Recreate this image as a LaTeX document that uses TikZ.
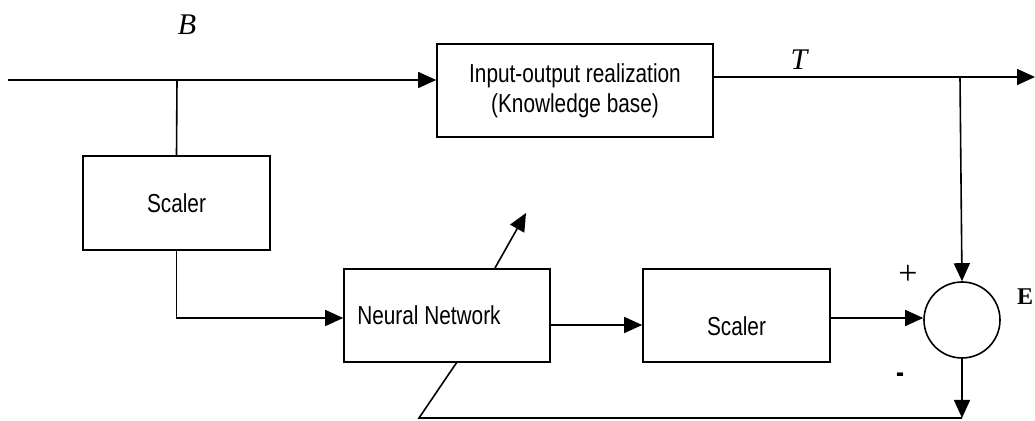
\documentclass[tikz,border=0pt]{standalone}
\usepackage{fontspec}
\setmainfont{Liberation Sans}[FakeStretch=0.8]
\newfontfamily\timesfont{Liberation Serif}
\usetikzlibrary{arrows.meta}

\tikzset{
  block/.style={draw, line width=0.8pt, minimum height=46.5pt, font=\fontsize{13}{15}\selectfont, align=center},
  sumnode/.style={draw, line width=0.8pt, circle, minimum size=38pt, inner sep=0pt},
  sig/.style={line width=0.8pt, -{Triangle[length=9pt,width=8pt]}},
  wire/.style={line width=0.8pt},
  lbl/.style={font=\timesfont\fontsize{15}{15}\selectfont\itshape}
}

\begin{document}
\begin{tikzpicture}[x=0.5pt, y=-0.5pt]
		\useasboundingbox (0,0) rectangle (1035,421);

		% blocks
		\node[block, minimum width=138pt] (kb) at (575,90.5) {Input-output realization\\(Knowledge base)};
		\node[block, minimum width=93.5pt, minimum height=47pt] (sc1) at (176.5,203) {Scaler};
		\node[block, minimum width=103pt] (nn) at (447,315.5) {\hspace*{-9pt}Neural Network\hspace*{9pt}};
		\node[block, minimum width=93.5pt] (sc2) at (736.5,315.5) {\raisebox{-5.5pt}[\height][\depth]{Scaler}};
		\node[sumnode] (sum) at (962,320) {};

		\coordinate (in) at (8,80);
		\coordinate (tap) at (177,80);
		\coordinate (out) at (1035,77);
		\coordinate (split) at (960,77);
		\coordinate (low) at (962,418);
		\coordinate (corner) at (419,418);
		\coordinate (adj1) at (495,268);
		\coordinate (adj2) at (526,213);

		% main path
		\draw[sig] (in) -- (in -| kb.west);
		\draw[wire] (tap) -- (sc1.north);
		\draw[sig] (sc1.south) |- (nn.west |- 0,318);
		\draw[sig] (nn.east |- 0,325) -- (sc2.west |- 0,325);
		\draw[sig] (sc2.east |- 0,318) -- (sum.west |- 0,318);
		\draw[sig] (kb.east |- out) -- (out);
		\draw[sig] (split) -- (sum.north);

		% error feedback
		\draw[sig] (sum.south) -- (low);
		\draw[wire] (low) -- (corner) -- (457,362);
		\draw[sig] (adj1) -- (adj2);

		% labels
		\node[lbl] (blbl) at (187,25) {B};
		\node[lbl] (tlbl) at (799,60) {T};
		\node[font=\timesfont\fontsize{17}{17}\selectfont] (plus) at (908,275) {+};
		\node[font=\fontsize{15}{15}\selectfont\bfseries] (minus) at (900,378) {-};
		\node[font=\timesfont\fontsize{12}{12}\selectfont\bfseries] (elbl) at (1025,297) {E};

	\end{tikzpicture}
\end{document}
